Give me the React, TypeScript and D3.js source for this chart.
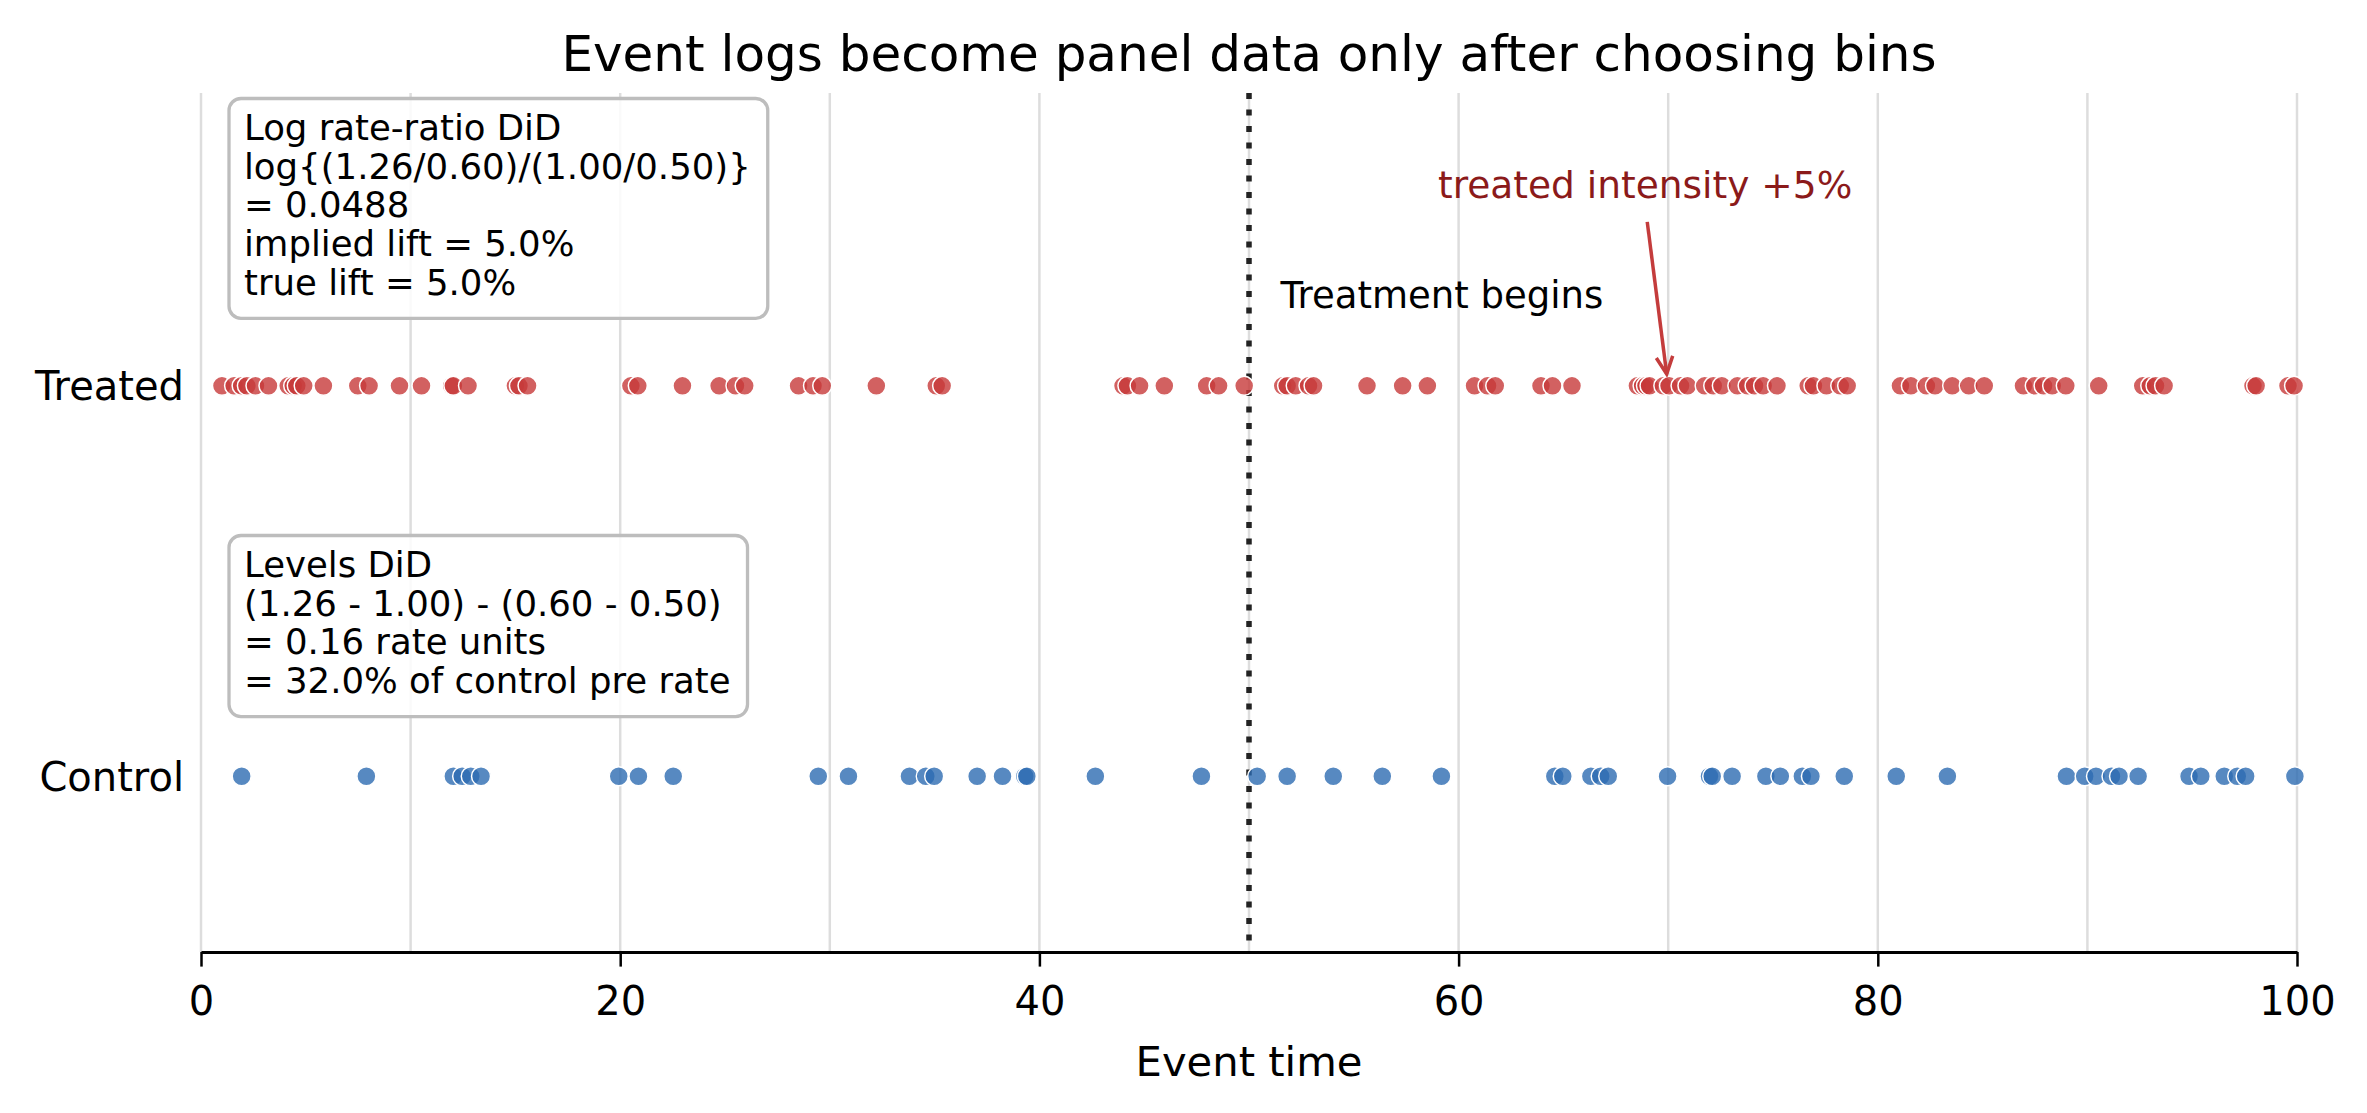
import { useEffect, useRef } from 'react'
import * as d3 from 'd3'

// Event times (0-100) for each group
const treatedEvents = [
  1.0, 1.58, 1.94, 2.19, 2.6, 3.22, 4.16, 4.4, 4.57, 4.9, 5.84, 7.48, 8.02, 9.47,
  10.52, 11.96, 12.04, 12.74, 15.0, 15.17, 15.58, 20.51, 20.84, 22.97, 24.72,
  25.5, 25.94, 28.51, 29.2, 29.64, 32.22, 35.08, 35.36, 43.99, 44.2, 44.78,
  45.96, 47.98, 48.55, 49.77, 51.61, 51.82, 52.23, 52.84, 53.08, 55.63, 57.33,
  58.51, 60.76, 61.38, 61.75, 63.93, 64.48, 65.41, 68.53, 68.78, 68.94, 69.11,
  69.77, 70.04, 70.59, 70.92, 71.74, 72.15, 72.56, 73.3, 73.79, 74.12, 74.53,
  75.19, 76.68, 76.93, 77.55, 78.21, 78.54, 81.08, 81.58, 82.32, 82.73, 83.55,
  84.34, 85.08, 86.95, 87.49, 87.91, 88.32, 88.97, 90.54, 92.64, 93.0, 93.25,
  93.66, 97.9, 98.05, 99.57, 99.86,
]
const controlEvents = [
  1.94, 7.89, 12.04, 12.46, 12.87, 13.36, 19.93, 20.87, 22.53, 29.45, 30.89,
  33.8, 34.58, 34.98, 37.03, 38.24, 39.3, 39.4, 42.67, 47.73, 50.39, 51.82,
  54.02, 56.36, 59.18, 64.59, 64.97, 66.31, 66.78, 67.14, 69.97, 71.97, 72.1,
  73.05, 74.66, 75.35, 76.4, 76.81, 78.4, 80.88, 83.32, 89.0, 89.87, 90.41,
  91.15, 91.51, 92.42, 94.85, 95.41, 96.53, 97.15, 97.55, 99.9,
]
const groups = ['Control', 'Treated']
const xTicks = [0, 20, 40, 60, 80, 100]
const gridTicks = [0, 10, 20, 30, 40, 50, 60, 70, 80, 90, 100]
const treatmentStart = 50

const logBoxLines = [
  'Log rate-ratio DiD',
  'log{(1.26/0.60)/(1.00/0.50)}',
  '= 0.0488',
  'implied lift = 5.0%',
  'true lift = 5.0%',
]
const levelsBoxLines = [
  'Levels DiD',
  '(1.26 - 1.00) - (0.60 - 0.50)',
  '= 0.16 rate units',
  '= 32.0% of control pre rate',
]

const FONT = 'DejaVu Sans'
const RED = '#c73a3a'
const BLUE = '#2d6cb2'

const App = () => {
  const svgRef = useRef<SVGSVGElement>(null)
  const width = 2367
  const height = 1113
  const plot = { left: 201, right: 2297, top: 93, bottom: 952 }

  useEffect(() => {
    const x = d3.scaleLinear().domain([0, 100]).range([plot.left, plot.right])
    const y = d3.scaleLinear().domain([-0.45, 1.75]).range([plot.bottom, plot.top])
    const groupY = (g: string) => y(groups.indexOf(g))

    const svg = d3.select(svgRef.current)
    svg.selectAll('*').remove()

    svg.append('rect').attr('width', width).attr('height', height).attr('fill', '#fff')

    // vertical grid
    svg
      .append('g')
      .selectAll('line')
      .data(gridTicks)
      .enter()
      .append('line')
      .attr('x1', (d) => x(d))
      .attr('x2', (d) => x(d))
      .attr('y1', plot.top)
      .attr('y2', plot.bottom)
      .attr('stroke', '#dddddd')
      .attr('stroke-width', 2.5)

    // treatment start marker
    svg
      .append('line')
      .attr('x1', x(treatmentStart))
      .attr('x2', x(treatmentStart))
      .attr('y1', plot.top)
      .attr('y2', plot.bottom)
      .attr('stroke', '#222')
      .attr('stroke-width', 5.5)
      .attr('stroke-dasharray', '6,10.5')

    // event dots
    const rows = [
      { group: 'Treated', events: treatedEvents, color: RED },
      { group: 'Control', events: controlEvents, color: BLUE },
    ]
    rows.forEach((row) => {
      svg
        .append('g')
        .selectAll('circle')
        .data(row.events)
        .enter()
        .append('circle')
        .attr('cx', (d) => x(d))
        .attr('cy', groupY(row.group))
        .attr('r', 9.5)
        .attr('fill', row.color)
        .attr('fill-opacity', 0.8)
        .attr('stroke', '#fff')
        .attr('stroke-width', 1.5)
    })

    // x axis
    const xAxis = d3
      .axisBottom(x)
      .tickValues(xTicks)
      .tickSize(14.6)
      .tickSizeOuter(0)
      .tickPadding(20)
      .tickFormat(d3.format('d'))
    const xAxisGroup = svg
      .append('g')
      .attr('transform', `translate(0, ${plot.bottom})`)
      .call(xAxis)
    xAxisGroup.attr('font-family', FONT).attr('font-size', 40)
    xAxisGroup.select('.domain').attr('stroke', '#000').attr('stroke-width', 3)
    xAxisGroup.selectAll('.tick line').attr('stroke', '#000').attr('stroke-width', 2.5)
    xAxisGroup.selectAll('.tick text').attr('fill', '#000')

    // y labels
    svg
      .append('g')
      .selectAll('text')
      .data(groups)
      .enter()
      .append('text')
      .attr('x', plot.left - 17)
      .attr('y', (d) => groupY(d))
      .attr('dy', '0.36em')
      .attr('text-anchor', 'end')
      .style('font-family', FONT)
      .style('font-size', '40px')
      .text((d) => d)

    // title and axis label
    svg
      .append('text')
      .attr('x', (plot.left + plot.right) / 2)
      .attr('y', 71)
      .attr('text-anchor', 'middle')
      .style('font-family', FONT)
      .style('font-size', '50px')
      .text('Event logs become panel data only after choosing bins')
    svg
      .append('text')
      .attr('x', (plot.left + plot.right) / 2)
      .attr('y', 1076)
      .attr('text-anchor', 'middle')
      .style('font-family', FONT)
      .style('font-size', '41.7px')
      .text('Event time')

    // treatment label
    svg
      .append('text')
      .attr('x', x(51.5))
      .attr('y', y(1.2))
      .style('font-family', FONT)
      .style('font-size', '37px')
      .text('Treatment begins')

    // annotation arrow pointing at treated row
    const from = [x(69), y(1.42)]
    const target = [x(70), groupY('Treated')]
    const ang = Math.atan2(target[1] - from[1], target[0] - from[0])
    const tip = [target[0] - 12 * Math.cos(ang), target[1] - 12 * Math.sin(ang)]
    svg
      .append('text')
      .attr('x', x(68.9))
      .attr('y', y(1.48))
      .attr('text-anchor', 'middle')
      .style('font-family', FONT)
      .style('font-size', '37.5px')
      .style('fill', '#8b1a1a')
      .text('treated intensity +5%')
    svg
      .append('line')
      .attr('x1', from[0])
      .attr('y1', from[1])
      .attr('x2', tip[0])
      .attr('y2', tip[1])
      .attr('stroke', '#c43c3c')
      .attr('stroke-width', 3.5)
    const head = d3.path()
    const hl = 19
    const spread = 0.45
    head.moveTo(tip[0] - hl * Math.cos(ang - spread), tip[1] - hl * Math.sin(ang - spread))
    head.lineTo(tip[0], tip[1])
    head.lineTo(tip[0] - hl * Math.cos(ang + spread), tip[1] - hl * Math.sin(ang + spread))
    svg
      .append('path')
      .attr('d', head.toString())
      .attr('fill', 'none')
      .attr('stroke', '#c43c3c')
      .attr('stroke-width', 3.5)

    // text boxes with the DiD arithmetic
    const drawBox = (lines: string[], left: number, firstBaseline: number) => {
      const g = svg.append('g')
      const rect = g.append('rect')
      const text = g
        .append('text')
        .style('font-family', FONT)
        .style('font-size', '35.5px')
      lines.forEach((line, i) => {
        text
          .append('tspan')
          .attr('x', left)
          .attr('y', firstBaseline + i * 38.7)
          .text(line)
      })
      const bb = (text.node() as SVGTextElement).getBBox()
      const lastBaseline = firstBaseline + (lines.length - 1) * 38.7
      rect
        .attr('x', left - 15)
        .attr('y', firstBaseline - 41.5)
        .attr('width', bb.width + 32)
        .attr('height', lastBaseline + 23.5 - (firstBaseline - 41.5))
        .attr('rx', 12)
        .attr('fill', '#fff')
        .attr('fill-opacity', 0.85)
        .attr('stroke', '#bdbdbd')
        .attr('stroke-width', 3.3)
    }
    drawBox(logBoxLines, 244, 140)
    drawBox(levelsBoxLines, 244, 577)
  }, [])

  return (
    <svg
      ref={svgRef}
      width={width}
      height={height}
      style={{ position: 'absolute', left: 0, top: 0, display: 'block' }}
    />
  )
}

export default App
